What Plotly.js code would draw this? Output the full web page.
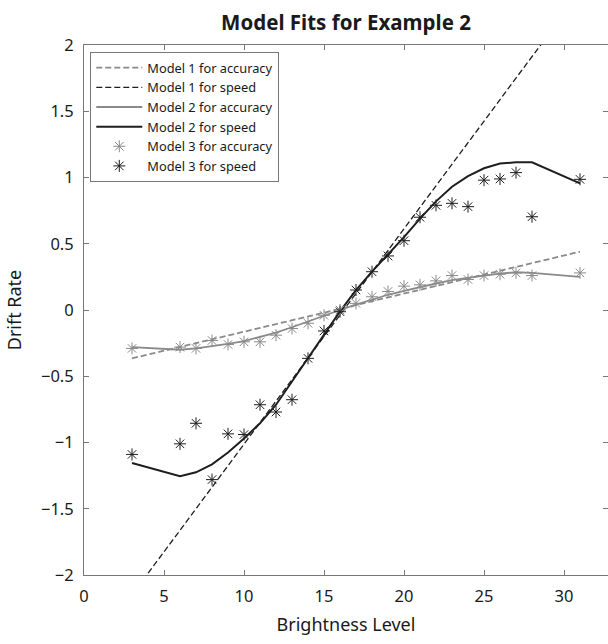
<!DOCTYPE html>
<html>
<head>
<meta charset="utf-8">
<script src="https://cdn.plot.ly/plotly-3.0.1.min.js"></script>
<style>html,body{margin:0;padding:0;background:#fff;}#chart{width:608px;height:644px;}</style>
</head>
<body>
<div id="chart"></div>
<script>
// Brightness levels
const levels = [3, 6, 7, 8, 9, 10, 11, 12, 13, 14, 15, 16, 17, 18, 19, 20, 21, 22, 23, 24, 25, 26, 27, 28, 31];

// Model 1 (linear) endpoints
const model1X = [3, 31];
const model1Accuracy = [-0.365, 0.44];
const model1Speed = [-2.15, 2.40];

// Model 2 fits
const model2Accuracy = [-0.28, -0.30, -0.29, -0.275, -0.255, -0.235, -0.205, -0.17, -0.13, -0.085, -0.04, 0.0, 0.04, 0.08, 0.115, 0.145, 0.175, 0.20, 0.225, 0.245, 0.26, 0.275, 0.285, 0.28, 0.25];
const model2Speed = [-1.155, -1.255, -1.225, -1.165, -1.075, -0.97, -0.855, -0.715, -0.54, -0.365, -0.18, -0.01, 0.15, 0.29, 0.42, 0.55, 0.69, 0.82, 0.93, 1.01, 1.07, 1.105, 1.115, 1.115, 0.955];

// Model 3 estimates
const model3Accuracy = [-0.29, -0.28, -0.29, -0.23, -0.26, -0.24, -0.24, -0.19, -0.14, -0.10, -0.04, 0.0, 0.05, 0.10, 0.14, 0.18, 0.19, 0.22, 0.26, 0.23, 0.26, 0.27, 0.28, 0.26, 0.28];
const model3Speed = [-1.09, -1.01, -0.855, -1.28, -0.935, -0.94, -0.715, -0.77, -0.677, -0.365, -0.158, -0.013, 0.151, 0.289, 0.408, 0.523, 0.70, 0.79, 0.805, 0.78, 0.98, 0.989, 1.037, 0.704, 0.986];

const xTicks = [0, 5, 10, 15, 20, 25, 30];
const yTicks = [-2, -1.5, -1, -0.5, 0, 0.5, 1, 1.5, 2];

const GRAY = '#8a8a8a';
const DARK = '#1e1e1e';
const FONT = '"Noto Sans", "Open Sans", sans-serif';

const traces = [
  {x: model1X, y: model1Accuracy, mode: 'lines', name: 'Model 1 for accuracy',
   line: {color: GRAY, width: 1.8, dash: '6px,3px'}},
  {x: model1X, y: model1Speed, mode: 'lines', name: 'Model 1 for speed',
   line: {color: DARK, width: 1.3, dash: '6px,3px'}},
  {x: levels, y: model2Accuracy, mode: 'lines', name: 'Model 2 for accuracy',
   line: {color: GRAY, width: 1.8}},
  {x: levels, y: model2Speed, mode: 'lines', name: 'Model 2 for speed',
   line: {color: DARK, width: 2}},
  {x: levels, y: model3Accuracy, mode: 'markers', name: 'Model 3 for accuracy',
   marker: {symbol: 'asterisk-open', size: 10, color: GRAY, line: {color: GRAY, width: 1}}},
  {x: levels, y: model3Speed, mode: 'markers', name: 'Model 3 for speed',
   marker: {symbol: 'asterisk-open', size: 10, color: DARK, line: {color: DARK, width: 1}}}
];

const layout = {
  width: 608, height: 644,
  margin: {l: 84, r: 0, t: 45, b: 69},
  paper_bgcolor: '#fff', plot_bgcolor: '#fff',
  font: {family: FONT, color: '#1a1a1a', size: 16},
  title: {text: '<b>Model Fits for Example 2</b>', x: 0.5, xref: 'paper', y: 21, yref: 'container', yanchor: 'middle',
          font: {family: FONT, size: 20.5, color: '#1a1a1a'}},
  showlegend: true,
  legend: {x: 0.012, y: 0.987, xanchor: 'left', yanchor: 'top', bgcolor: '#fff',
           bordercolor: '#777', borderwidth: 1, font: {family: FONT, size: 12.8, color: '#1a1a1a'},
           tracegroupgap: 0, itemwidth: 46},
  xaxis: {range: [0, 32.75], tickvals: xTicks, ticks: 'inside', ticklen: 5, tickcolor: '#777',
          showline: true, linecolor: '#777', linewidth: 1, mirror: 'ticks', showgrid: false, zeroline: false,
          ticklabelstandoff: 6,
          tickfont: {size: 16.5}, title: {text: 'Brightness Level', font: {size: 18}, standoff: 12}},
  yaxis: {range: [-2, 2], tickvals: yTicks, ticks: 'inside', ticklen: 5, tickcolor: '#777',
          showline: true, linecolor: '#777', linewidth: 1, mirror: 'ticks', showgrid: false, zeroline: false,
          ticklabelstandoff: 6,
          tickfont: {size: 16.5}, title: {text: 'Drift Rate', font: {size: 18}, standoff: 14}}
};

Plotly.newPlot('chart', traces, layout, {displayModeBar: false, staticPlot: true});
</script>
</body>
</html>
